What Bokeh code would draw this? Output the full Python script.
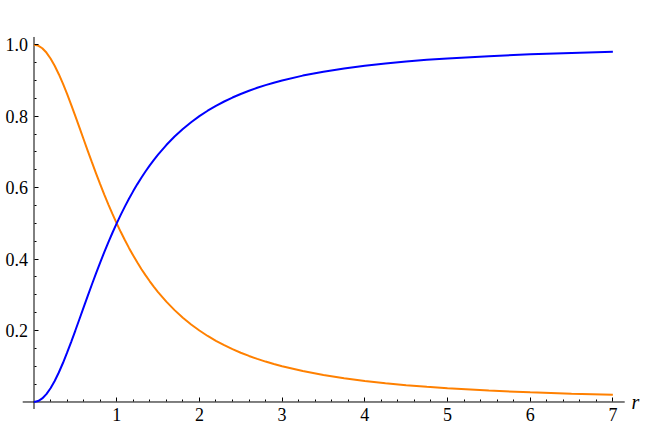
from bokeh.plotting import figure
from bokeh.models import LinearAxis, FixedTicker, PrintfTickFormatter, Range1d, Label
from bokeh.embed import file_html
from bokeh.resources import INLINE

# values
r = [0, 0.05, 0.1, 0.15, 0.2, 0.25, 0.3, 0.35, 0.4, 0.45,
     0.5, 0.55, 0.6, 0.65, 0.7, 0.75, 0.8, 0.85, 0.9, 0.95,
     1.0, 1.05, 1.1, 1.15, 1.2, 1.25, 1.3, 1.35, 1.4, 1.45,
     1.5, 1.6, 1.7, 1.8, 1.9, 2.0, 2.1, 2.2, 2.3, 2.4,
     2.5, 2.6, 2.7, 2.8, 2.9, 3.0, 3.25, 3.5, 3.75, 4.0,
     4.25, 4.5, 4.75, 5.0, 5.5, 6.0, 6.5, 7.0]
blue_vals = [0, 0.0025, 0.0099, 0.022, 0.0385, 0.0588, 0.0826, 0.1091, 0.1379, 0.1684,
             0.2, 0.2322, 0.2647, 0.297, 0.3289, 0.36, 0.3902, 0.4195, 0.4475, 0.4744,
             0.5, 0.5244, 0.5475, 0.5694, 0.5902, 0.6098, 0.6283, 0.6457, 0.6622, 0.6777,
             0.6923, 0.7191, 0.7429, 0.7642, 0.7831, 0.8, 0.8152, 0.8288, 0.841, 0.8521,
             0.8621, 0.8711, 0.8794, 0.8869, 0.8937, 0.9, 0.9135, 0.9245, 0.9336, 0.9412,
             0.9475, 0.9529, 0.9576, 0.9615, 0.968, 0.973, 0.9769, 0.98]
orange_vals = [1, 0.9975, 0.9901, 0.978, 0.9615, 0.9412, 0.9174, 0.8909, 0.8621, 0.8316,
               0.8, 0.7678, 0.7353, 0.703, 0.6711, 0.64, 0.6098, 0.5805, 0.5525, 0.5256,
               0.5, 0.4756, 0.4525, 0.4306, 0.4098, 0.3902, 0.3717, 0.3543, 0.3378, 0.3223,
               0.3077, 0.2809, 0.2571, 0.2358, 0.2169, 0.2, 0.1848, 0.1712, 0.159, 0.1479,
               0.1379, 0.1289, 0.1206, 0.1131, 0.1063, 0.1, 0.0865, 0.0755, 0.0664, 0.0588,
               0.0525, 0.0471, 0.0424, 0.0385, 0.032, 0.027, 0.0231, 0.02]
x_ticks = [1, 2, 3, 4, 5, 6, 7]
x_minor = [round(0.2 * i, 2) for i in range(1, 36) if i % 5 != 0]
y_ticks = [0.2, 0.4, 0.6, 0.8, 1.0]
y_minor = [round(0.05 * i, 2) for i in range(1, 21) if i % 4 != 0]

# axis line extents (data units)
x_axis_extent = (-0.1366, 7.143)
y_axis_extent = (-0.0196, 1.0216)

p = figure(frame_width=640, frame_height=425, output_backend="svg", toolbar_location=None,
           x_axis_type=None, y_axis_type=None,
           x_range=Range1d(-0.4051, 7.334), y_range=Range1d(-0.0658, 1.1237),
           min_border=0)
p.grid.visible = False
p.outline_line_color = None
p.background_fill_color = "white"
p.border_fill_color = "white"

# axis lines
p.segment(x0=[x_axis_extent[0], 0], y0=[0, y_axis_extent[0]],
          x1=[x_axis_extent[1], 0], y1=[0, y_axis_extent[1]],
          line_color="black", line_width=1)

p.line(r, orange_vals, line_color="#FF8000", line_width=2)
p.line(r, blue_vals, line_color="#0000FF", line_width=2)

font = "Liberation Serif"
common = dict(major_tick_out=0, minor_tick_out=0, minor_tick_in=2,
              major_label_text_font=font, major_label_text_font_size="18px",
              major_label_text_color="black", axis_line_color=None,
              major_tick_line_color="black", minor_tick_line_color="black")
xa = LinearAxis(fixed_location=0,
                ticker=FixedTicker(ticks=x_ticks, minor_ticks=x_minor),
                formatter=PrintfTickFormatter(format="%d"),
                major_tick_in=4, major_label_standoff=6, **common)
ya = LinearAxis(fixed_location=0,
                ticker=FixedTicker(ticks=y_ticks, minor_ticks=y_minor),
                formatter=PrintfTickFormatter(format="%.1f"),
                major_tick_in=4, major_label_standoff=6, **common)
p.add_layout(xa, "below")
p.add_layout(ya, "left")

p.add_layout(Label(x=7.225, y=0, text="r", text_font=font, text_font_style="italic",
                   text_font_size="20px", text_color="black",
                   text_baseline="middle", text_align="left"))

open("out.html", "w").write(file_html(p, INLINE))
